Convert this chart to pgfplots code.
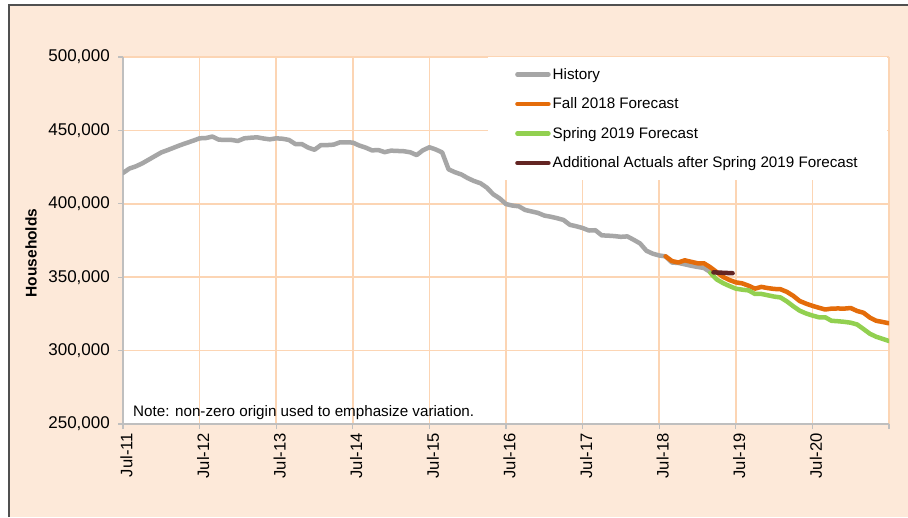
\documentclass[border=0pt]{standalone}
\usepackage{fontspec}
\setmainfont{Liberation Sans}
\usepackage{pgfplots}
\pgfplotsset{compat=1.18}
\definecolor{peach}{RGB}{253,233,217}
\definecolor{gridc}{RGB}{252,213,180}
\definecolor{histc}{RGB}{166,166,166}
\definecolor{fallc}{RGB}{228,108,10}
\definecolor{springc}{RGB}{146,208,80}
\definecolor{actc}{RGB}{99,37,35}
\definecolor{axc}{RGB}{191,191,191}
\definecolor{framec}{RGB}{80,80,80}
\begin{document}
\begin{tikzpicture}[x=1pt,y=1pt]
\useasboundingbox (0,0) rectangle (908,517);
\fill[white] (0,0) rectangle (908,517);
\fill[peach] (8,0) rectangle (908,513);
\draw[framec, line width=1.6pt] (8.8,0) -- (8.8,512.2) -- (908,512.2);
\node[rotate=90, font=\bfseries\fontsize{15.5}{18}\selectfont, inner sep=0pt] at (31,264) {Households};
\begin{axis}[
  at={(123pt,93pt)}, anchor=south west,
  width=766pt, height=367pt, scale only axis,
  xmin=0, xmax=120, ymin=250000, ymax=500000,
  axis x line=bottom, axis y line=left,
  axis line style={-, axc, line width=1.2pt},
  axis background/.style={fill=white},
  xtick={0,12,...,120},
  xticklabels={Jul-11,Jul-12,Jul-13,Jul-14,Jul-15,Jul-16,Jul-17,Jul-18,Jul-19,Jul-20,{}},
  ytick={250000,300000,...,500000},
  scaled y ticks=false,
  /pgf/number format/.cd, fixed, 1000 sep={,}, assume math mode=true,
  /pgfplots/.cd,
  tick align=outside,
  major tick length=5pt,
  tick style={axc, line width=1.2pt},
  grid=major,
  major grid style={gridc, line width=1.5pt},
  xticklabel shift=4pt,
  xticklabel style={rotate=90, anchor=east, inner sep=0pt, yshift=-3.5pt, font=\fontsize{16.6}{19}\selectfont},
  yticklabel style={anchor=east, inner sep=0pt, xshift=-8pt, font=\fontsize{17}{19}\selectfont},
  legend style={at={(rel axis cs:0.4765,1)}, anchor=north west, draw=none, fill=white,
    inner xsep=27pt, inner ysep=9pt, row sep=13pt,
    font=\fontsize{15.2}{18}\selectfont,
    /tikz/every odd column/.style={column sep=0pt}},
  legend cell align=left,
  legend image code/.code={\draw[#1, line cap=round] (0pt,0pt) -- (31pt,0pt);},
  every axis plot/.append style={line width=4.5pt, line join=round, line cap=round},
]
\addplot[histc] table {
0 421000
1 424000
2 425500
3 427500
4 430000
5 432500
6 435000
7 436600
8 438300
9 440000
10 441500
11 443000
12 444600
13 444800
14 445800
15 443700
16 443500
17 443500
18 442800
19 444600
20 445000
21 445300
22 444500
23 443900
24 444600
25 444300
26 443500
27 440700
28 440700
29 438300
30 436800
31 440000
32 440000
33 440300
34 441900
35 441900
36 441700
37 439700
38 438300
39 436400
40 436600
41 435200
42 436200
43 436000
44 435800
45 435100
46 433200
47 436500
48 438500
49 437000
50 435000
51 423500
52 421500
53 420000
54 417500
55 415500
56 414000
57 411000
58 406500
59 403700
60 399800
61 398800
62 398300
63 395800
64 394800
65 393800
66 392000
67 391200
68 390200
69 389000
70 385700
71 384700
72 383500
73 381800
74 382000
75 378500
76 378300
77 378000
78 377500
79 377800
80 375500
81 373000
82 368000
83 366000
84 364800
85 364200
86 360000
87 359700
88 358800
89 357800
90 357000
91 356300
92 353500
};
\addlegendentry{History}
\addplot[fallc] table {
85 364200
86 361000
87 360000
88 361500
89 360500
90 359500
91 359500
92 356800
93 353500
94 350200
95 348100
96 346500
97 345800
98 344200
99 342200
100 343400
101 342600
102 342000
103 341800
104 340000
105 337300
106 333800
107 332000
108 330500
109 329200
110 328000
111 328600
112 328700
113 328600
114 329000
115 327000
116 325800
117 322500
118 320300
119 319500
120 318600
};
\addlegendentry{Fall 2018 Forecast}
\addplot[springc] table {
92 353000
93 348500
94 346000
95 344000
96 342200
97 341500
98 341000
99 338600
100 338600
101 337700
102 336800
103 336200
104 333500
105 330200
106 327200
107 325300
108 323900
109 322700
110 322700
111 320300
112 320000
113 319600
114 319000
115 317800
116 314700
117 311500
118 309400
119 308000
120 306500
};
\addlegendentry{Spring 2019 Forecast}
\addplot[actc] table {
92.5 353300
93.5 353100
94.5 352900
95.5 352700
};
\addlegendentry{Additional Actuals after Spring 2019 Forecast}
\node[anchor=base west, inner sep=0pt, font=\fontsize{15.2}{18}\selectfont] at (rel axis cs:0.013,0.02) {Note: non-zero origin used to emphasize variation.};
\end{axis}
\end{tikzpicture}
\end{document}
